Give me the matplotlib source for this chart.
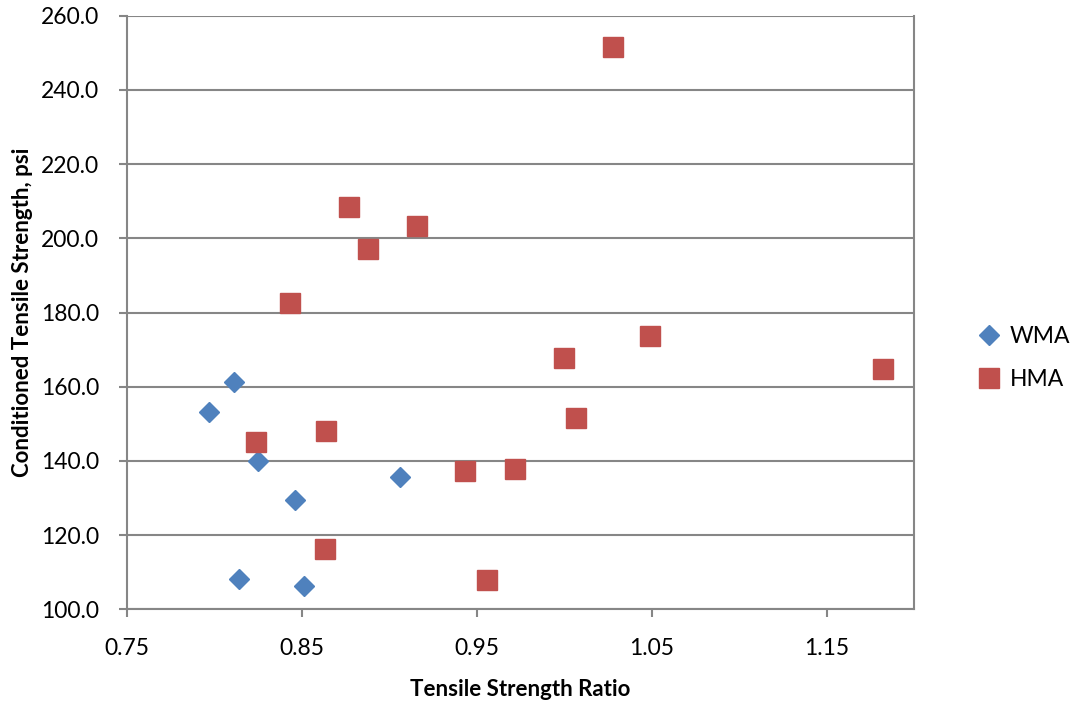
import numpy as np
from matplotlib import pyplot as plt

plt.rcParams['font.family'] = ['Lato', 'DejaVu Sans']

wma_tsr = [0.811, 0.797, 0.825, 0.846, 0.814, 0.851, 0.906]
wma_str = [161.3, 153.3, 140.0, 129.5, 108.1, 106.4, 135.7]

hma_tsr = [0.824, 0.864, 0.863, 0.843, 0.877, 0.888, 0.916, 1.028,
           1.000, 1.049, 1.007, 0.943, 0.972, 0.956, 1.182]
hma_str = [145.2, 148.1, 116.3, 182.5, 208.4, 197.0, 203.2, 251.6,
           167.7, 173.7, 151.7, 137.2, 137.7, 107.9, 164.8]

x_ticks = [0.75, 0.85, 0.95, 1.05, 1.15]
y_ticks = np.arange(100, 261, 20)

grey = '#868686'

fig = plt.figure(figsize=(10.73, 7.04), dpi=100)
ax = fig.add_axes([0.1184, 0.1345, 0.8518 - 0.1184, 0.9777 - 0.1345])

ax.plot(wma_tsr, wma_str, linestyle='none', marker='D', markersize=10,
        color='#4F81BD', label='WMA', zorder=3)
ax.plot(hma_tsr, hma_str, linestyle='none', marker='s', markersize=14.5,
        color='#C0504D', label='HMA', zorder=3)

ax.set_xlim(0.75, 1.20)
ax.set_ylim(100, 260)
ax.set_xticks(x_ticks)
ax.set_xticklabels(['%.2f' % v for v in x_ticks])
ax.set_yticks(y_ticks)
ax.set_yticklabels(['%.1f' % v for v in y_ticks])

ax.grid(True, axis='y', color=grey, linewidth=1.5)
ax.set_axisbelow(True)
for s in ax.spines.values():
    s.set_color(grey)
    s.set_linewidth(1.5)
ax.spines['top'].set_visible(False)

ax.tick_params(axis='both', colors=grey, labelcolor='black', labelsize=16.5,
               width=1.5, direction='out')
ax.tick_params(axis='x', length=6, pad=15)
ax.tick_params(axis='y', length=6, pad=14)

ax.set_xlabel('Tensile Strength Ratio', fontsize=16, fontweight='bold', labelpad=14)
ax.set_ylabel('Conditioned Tensile Strength, psi', fontsize=16, fontweight='bold', labelpad=6)

fig.legend(loc='upper left', bbox_to_anchor=(0.905, 0.55), frameon=False,
           fontsize=16.5, handlelength=0.8, handletextpad=0.5, labelspacing=0.95,
           borderaxespad=0)

plt.savefig('out.png', dpi=100)
